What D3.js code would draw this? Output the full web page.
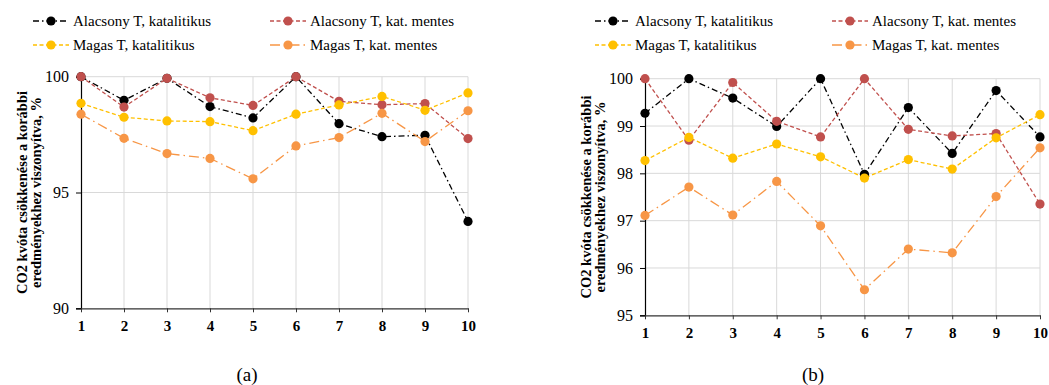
<!DOCTYPE html>
<html>
<head>
<meta charset="utf-8">
<script src="https://cdn.jsdelivr.net/npm/d3@7"></script>
<style>
  html, body { margin: 0; padding: 0; background: #fff; }
  svg, svg text { font-family: "Liberation Serif", "Times New Roman", Times, "DejaVu Serif", serif; }
</style>
</head>
<body>
<svg id="chart" width="1049" height="385"></svg>
<script>
// Run index (x axis)
const runs = [1, 2, 3, 4, 5, 6, 7, 8, 9, 10];

// Panel (a)
const aLowCat   = [100, 98.98, 99.93, 98.71, 98.22, 100, 97.97, 97.41, 97.47, 93.75];
const aLowNoCat = [100, 98.69, 99.93, 99.09, 98.76, 100, 98.94, 98.79, 98.84, 97.33];
const aHighCat  = [98.85, 98.25, 98.09, 98.06, 97.67, 98.38, 98.78, 99.15, 98.55, 99.30];
const aHighNoCat= [98.38, 97.34, 96.68, 96.47, 95.59, 97.01, 97.37, 98.42, 97.20, 98.53];

// Panel (b)
const bLowCat   = [99.27, 100, 99.59, 98.99, 100, 97.98, 99.39, 98.42, 99.75, 98.77];
const bLowNoCat = [100, 98.70, 99.92, 99.10, 98.77, 100, 98.93, 98.79, 98.84, 97.35];
const bHighCat  = [98.27, 98.76, 98.32, 98.62, 98.35, 97.90, 98.29, 98.09, 98.75, 99.24];
const bHighNoCat= [97.11, 97.71, 97.12, 97.83, 96.89, 95.54, 96.40, 96.32, 97.51, 98.54];

const seriesNames = ["Alacsony T, katalitikus", "Alacsony T, kat. mentes",
                     "Magas T, katalitikus", "Magas T, kat. mentes"];

const aTicks = [90, 95, 100];
const bTicks = [95, 96, 97, 98, 99, 100];

const yTitle = ["CO2 kvóta csökkenése a korábbi", "eredményekhez viszonyítva, %"];

const FONT = '"Liberation Serif", "Times New Roman", Times, "DejaVu Serif", serif';

// Line appearance per series
const styles = [
  { color: "#000000", dash: "6,3,1.5,3" },
  { color: "#C0504D", dash: "4,2.5" },
  { color: "#FFC000", dash: "4,2.5" },
  { color: "#F79646", dash: "10,4,1.5,4" }
];

const svg = d3.select("#chart");

function panel(opts) {
  const { x0, x1, y0, y1, domain, ticks, data, tag, titleX, tagX, legendX } = opts;
  const x = d3.scaleLinear().domain([1, 10]).range([x0, x1]);
  const y = d3.scaleLinear().domain(domain).range([y1, y0]);
  const g = svg.append("g").attr("font-family", FONT);

  // grid
  g.append("g").selectAll("line.v").data(runs.slice(1)).join("line")
    .attr("x1", d => x(d)).attr("x2", d => x(d))
    .attr("y1", y0).attr("y2", y1)
    .attr("stroke", "#d9d9d9").attr("stroke-width", 1);
  g.append("g").selectAll("line.h").data(ticks.slice(1)).join("line")
    .attr("x1", x0).attr("x2", x1)
    .attr("y1", d => y(d)).attr("y2", d => y(d))
    .attr("stroke", "#d9d9d9").attr("stroke-width", 1);

  // axes
  const yAxis = g.append("g").attr("transform", `translate(${x0},0)`)
    .call(d3.axisLeft(y).tickValues(ticks).tickSize(5).tickPadding(7).tickFormat(d3.format("d")));
  yAxis.attr("font-family", FONT);
  yAxis.select(".domain").attr("stroke", "#000").attr("stroke-width", 1.2);
  yAxis.selectAll(".tick line").attr("stroke", "#000");
  yAxis.selectAll("text").attr("font-size", 16).attr("font-family", FONT).attr("fill", "#000");

  const xAxis = g.append("g").attr("transform", `translate(0,${y1})`)
    .call(d3.axisBottom(x).tickValues(runs).tickSize(4).tickSizeOuter(0).tickPadding(8).tickFormat(d3.format("d")));
  xAxis.attr("font-family", FONT);
  xAxis.select(".domain").attr("stroke", "#333").attr("stroke-width", 1.2);
  xAxis.selectAll(".tick line").attr("stroke", "#333");
  xAxis.selectAll("text").attr("font-size", 15).attr("font-weight", "bold")
    .attr("font-family", FONT).attr("fill", "#000");

  // series
  const line = d3.line().x((d, i) => x(runs[i])).y(d => y(d));
  data.forEach((vals, k) => {
    g.append("path").datum(vals).attr("d", line)
      .attr("fill", "none").attr("stroke", styles[k].color)
      .attr("stroke-width", 1.3).attr("stroke-dasharray", styles[k].dash);
  });
  data.forEach((vals, k) => {
    g.append("g").selectAll("circle").data(vals).join("circle")
      .attr("cx", (d, i) => x(runs[i])).attr("cy", d => y(d)).attr("r", 4.6)
      .attr("fill", styles[k].color);
  });

  // y title
  const ty = g.append("text")
    .attr("transform", `translate(${titleX},${(y0 + y1) / 2}) rotate(-90)`)
    .attr("text-anchor", "middle").attr("font-size", 14.5).attr("font-weight", "bold")
    .attr("font-family", FONT).attr("fill", "#000");
  yTitle.forEach((t, i) => ty.append("tspan").attr("x", 0).attr("dy", i === 0 ? 0 : 13.5).text(t));

  // panel tag
  g.append("text").attr("x", tagX).attr("y", 381).attr("text-anchor", "middle")
    .attr("font-size", 19).attr("font-family", FONT).attr("fill", "#000").text(tag);

  // legend
  const cols = [legendX, legendX + 237];
  const rows = [21, 45];
  seriesNames.forEach((name, k) => {
    const lx = cols[k % 2], ly = rows[Math.floor(k / 2)];
    const lg = g.append("g").attr("transform", `translate(${lx},${ly})`);
    lg.append("line").attr("x1", 0).attr("x2", 36).attr("y1", 0).attr("y2", 0)
      .attr("stroke", styles[k].color).attr("stroke-width", 1.3)
      .attr("stroke-dasharray", styles[k].dash);
    lg.append("circle").attr("cx", 18).attr("cy", 0).attr("r", 4.6).attr("fill", styles[k].color);
    lg.append("text").attr("x", 40).attr("y", 5).attr("font-size", 15)
      .attr("font-family", FONT).attr("fill", "#000").text(name);
  });
}

panel({ x0: 81, x1: 468, y0: 76.7, y1: 308.3, domain: [90, 100], ticks: aTicks,
        data: [aLowCat, aLowNoCat, aHighCat, aHighNoCat], tag: "(a)",
        titleX: 27, tagX: 247, legendX: 33 });
panel({ x0: 645, x1: 1040, y0: 78.7, y1: 315.3, domain: [95, 100], ticks: bTicks,
        data: [bLowCat, bLowNoCat, bHighCat, bHighNoCat], tag: "(b)",
        titleX: 591, tagX: 813, legendX: 595 });
</script>
</body>
</html>
